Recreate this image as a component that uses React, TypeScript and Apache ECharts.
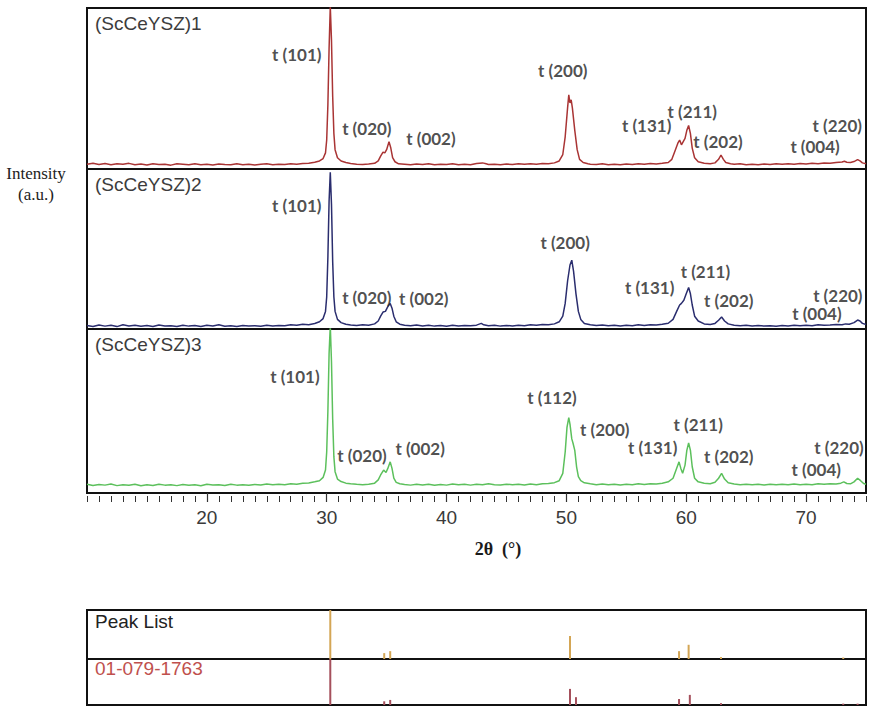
import React, { useEffect, useRef } from 'react';
import * as echarts from 'echarts';

// ---------- data ----------
const THETA_MIN = 10;
const THETA_MAX = 75;
const THETA_TICKS = [20, 30, 40, 50, 60, 70];
const SAMPLE_NAMES = ['(ScCeYSZ)1', '(ScCeYSZ)2', '(ScCeYSZ)3'];
const LIST_NAMES = ['Peak List', '01-079-1763'];
const AXIS_TITLE_X = '2θ  (°)';
const AXIS_TITLE_Y = ['Intensity', '(a.u.)'];

// [2θ, intensity (% of panel height)]
const PATTERN_1: [number, number][] = [
  [10.0, 3.0], [10.5, 3.6], [11.0, 2.8], [11.5, 3.4], [12.0, 2.6], [12.5, 3.2], [13.0, 2.9], [13.5, 3.5],
  [14.0, 2.7], [14.5, 3.1], [15.0, 2.5], [15.5, 3.3], [16.0, 2.8], [16.5, 3.0], [17.0, 2.4], [17.5, 3.2],
  [18.0, 2.9], [18.5, 2.6], [19.0, 3.3], [19.5, 2.7], [20.0, 3.0], [20.5, 2.5], [21.0, 3.1], [21.5, 2.8],
  [22.0, 2.6], [22.5, 3.2], [23.0, 2.7], [23.5, 3.0], [24.0, 2.5], [24.5, 2.9], [25.0, 3.2], [25.5, 2.6],
  [26.0, 3.0], [26.5, 2.8], [27.0, 3.3], [27.5, 3.0], [28.0, 3.4], [28.5, 3.6], [29.0, 4.2], [29.4, 5.0],
  [29.7, 6.5], [29.9, 10], [30.0, 18], [30.1, 40], [30.2, 75], [30.3, 101], [30.4, 80], [30.5, 45],
  [30.6, 22], [30.7, 12], [30.9, 7], [31.2, 5], [31.6, 4], [32.0, 3.4], [32.5, 3.0], [33.0, 2.8],
  [33.5, 3.1], [34.0, 3.5], [34.3, 5], [34.5, 8], [34.7, 10.5], [34.85, 10], [35.0, 12], [35.2, 17],
  [35.35, 13], [35.5, 7], [35.7, 4.5], [36.0, 3.2], [36.5, 3.0], [37.0, 2.7], [37.5, 3.1], [38.0, 2.8],
  [38.5, 3.2], [39.0, 2.6], [39.5, 3.0], [40.0, 2.8], [40.5, 3.3], [41.0, 2.7], [41.5, 3.0], [42.0, 2.6],
  [42.5, 3.4], [43.0, 3.8], [43.3, 3.2], [43.5, 2.8], [44.0, 3.0], [44.5, 2.6], [45.0, 3.1], [45.5, 2.8],
  [46.0, 3.2], [46.5, 2.9], [47.0, 3.3], [47.5, 3.0], [48.0, 3.4], [48.5, 3.2], [49.0, 3.8], [49.4, 5],
  [49.7, 9], [49.9, 20], [50.1, 38], [50.2, 46], [50.3, 41], [50.4, 43], [50.5, 38], [50.7, 24],
  [50.9, 12], [51.1, 6], [51.4, 4], [51.8, 3.3], [52.0, 3.0], [52.5, 2.8], [53.0, 3.2], [53.5, 2.7],
  [54.0, 3.0], [54.5, 2.6], [55.0, 3.1], [55.5, 2.8], [56.0, 3.3], [56.5, 3.0], [57.0, 3.4], [57.5, 3.1],
  [58.0, 3.5], [58.5, 4.0], [58.8, 6], [59.1, 12], [59.3, 16], [59.45, 18], [59.6, 15], [59.75, 17],
  [59.9, 19], [60.05, 24], [60.2, 27], [60.35, 22], [60.5, 13], [60.7, 7], [61.0, 4.5], [61.5, 3.6],
  [62.0, 3.3], [62.4, 3.8], [62.7, 6], [62.9, 8.7], [63.1, 6], [63.3, 4], [63.7, 3.2], [64.0, 2.9],
  [64.5, 3.2], [65.0, 2.7], [65.5, 3.0], [66.0, 2.6], [66.5, 3.1], [67.0, 2.8], [67.5, 3.2], [68.0, 2.9],
  [68.5, 3.3], [69.0, 3.0], [69.5, 3.4], [70.0, 3.1], [70.5, 3.5], [71.0, 3.3], [71.5, 3.7], [72.0, 3.5],
  [72.5, 4.0], [73.0, 4.3], [73.2, 4.8], [73.4, 4.2], [73.7, 4.0], [74.0, 4.6], [74.3, 5.8], [74.5, 5.0],
  [74.7, 3.8], [75.0, 3.2],
];

const PATTERN_2: [number, number][] = [
  [10.0, 2.2], [10.5, 1.6], [11.0, 2.5], [11.5, 1.8], [12.0, 2.3], [12.5, 1.5], [13.0, 2.6], [13.5, 1.9],
  [14.0, 2.4], [14.5, 1.7], [15.0, 2.2], [15.5, 1.6], [16.0, 2.5], [16.5, 1.9], [17.0, 2.1], [17.5, 1.5],
  [18.0, 2.4], [18.5, 1.8], [19.0, 2.2], [19.5, 1.6], [20.0, 2.3], [20.5, 1.9], [21.0, 2.6], [21.5, 1.7],
  [22.0, 2.0], [22.5, 1.6], [23.0, 2.2], [23.5, 1.8], [24.0, 2.1], [24.5, 1.7], [25.0, 2.4], [25.5, 1.9],
  [26.0, 2.2], [26.5, 2.0], [27.0, 2.6], [27.5, 2.3], [28.0, 3.0], [28.5, 2.7], [29.0, 3.4], [29.4, 4.5],
  [29.7, 6.5], [29.9, 11], [30.0, 20], [30.1, 45], [30.2, 80], [30.3, 98], [30.4, 78], [30.5, 42],
  [30.6, 20], [30.7, 11], [30.9, 6], [31.2, 4], [31.6, 3], [32.0, 2.5], [32.5, 2.2], [33.0, 2.6],
  [33.5, 2.4], [34.0, 3.2], [34.3, 5], [34.5, 8], [34.7, 10.6], [34.9, 11], [35.1, 14], [35.3, 16],
  [35.45, 13], [35.6, 8], [35.8, 4.5], [36.1, 3], [36.5, 2.4], [37.0, 2.0], [37.5, 2.5], [38.0, 1.9],
  [38.5, 2.3], [39.0, 1.8], [39.5, 2.2], [40.0, 1.7], [40.5, 2.3], [41.0, 1.9], [41.5, 2.2], [42.0, 2.0],
  [42.5, 2.4], [42.9, 3.5], [43.1, 2.6], [43.5, 2.0], [44.0, 2.3], [44.5, 1.8], [45.0, 2.2], [45.5, 1.9],
  [46.0, 2.4], [46.5, 2.1], [47.0, 2.6], [47.5, 2.3], [48.0, 2.8], [48.5, 2.6], [49.0, 3.2], [49.4, 4.5],
  [49.7, 8], [49.9, 16], [50.1, 30], [50.3, 40], [50.45, 43], [50.6, 36], [50.8, 22], [51.0, 11],
  [51.2, 6], [51.5, 3.5], [52.0, 2.6], [52.5, 2.2], [53.0, 2.5], [53.5, 2.0], [54.0, 2.3], [54.5, 1.9],
  [55.0, 2.4], [55.5, 2.1], [56.0, 2.6], [56.5, 2.2], [57.0, 2.7], [57.5, 2.5], [58.0, 3.0], [58.5, 3.6],
  [58.9, 6], [59.2, 11], [59.45, 15], [59.6, 16], [59.8, 18], [60.0, 22], [60.2, 26], [60.35, 22],
  [60.5, 15], [60.7, 8], [61.0, 5], [61.5, 3.2], [62.0, 2.8], [62.4, 3.5], [62.7, 5.5], [62.95, 7.5],
  [63.2, 5], [63.5, 3.2], [64.0, 2.4], [64.5, 2.0], [65.0, 2.3], [65.5, 1.9], [66.0, 2.2], [66.5, 1.8],
  [67.0, 2.1], [67.5, 1.7], [68.0, 2.2], [68.5, 1.9], [69.0, 2.3], [69.5, 2.0], [70.0, 2.4], [70.5, 2.1],
  [71.0, 2.6], [71.5, 2.3], [72.0, 2.5], [72.5, 2.8], [73.0, 2.6], [73.3, 3.2], [73.6, 3.0], [74.0, 4.0],
  [74.3, 5.6], [74.5, 5.0], [74.7, 3.5], [75.0, 2.8],
];

const PATTERN_3: [number, number][] = [
  [10.0, 5.4], [10.5, 4.6], [11.0, 5.2], [11.5, 4.8], [12.0, 5.5], [12.5, 4.5], [13.0, 5.1], [13.5, 4.7],
  [14.0, 5.3], [14.5, 4.4], [15.0, 5.0], [15.5, 4.6], [16.0, 5.4], [16.5, 4.8], [17.0, 5.1], [17.5, 4.5],
  [18.0, 5.2], [18.5, 4.7], [19.0, 5.0], [19.5, 4.4], [20.0, 5.3], [20.5, 4.9], [21.0, 5.1], [21.5, 4.6],
  [22.0, 5.4], [22.5, 4.8], [23.0, 5.0], [23.5, 4.7], [24.0, 5.2], [24.5, 4.9], [25.0, 5.5], [25.5, 5.0],
  [26.0, 5.3], [26.5, 5.1], [27.0, 5.6], [27.5, 5.4], [28.0, 5.9], [28.5, 6.1], [29.0, 6.8], [29.4, 7.5],
  [29.7, 9.5], [29.9, 14], [30.0, 25], [30.1, 50], [30.2, 85], [30.3, 102], [30.4, 80], [30.5, 45],
  [30.6, 22], [30.7, 13], [30.9, 8.5], [31.2, 7], [31.6, 6], [32.0, 5.6], [32.5, 5.3], [33.0, 5.1],
  [33.5, 5.4], [34.0, 6], [34.3, 8], [34.5, 11], [34.75, 14], [34.95, 12.5], [35.1, 15], [35.3, 19],
  [35.45, 15], [35.6, 9], [35.8, 6.5], [36.1, 5.6], [36.5, 5.2], [37.0, 4.8], [37.5, 5.3], [38.0, 4.9],
  [38.5, 5.4], [39.0, 4.7], [39.5, 5.2], [40.0, 4.8], [40.5, 5.5], [41.0, 5.0], [41.5, 5.3], [42.0, 4.8],
  [42.5, 5.4], [43.0, 5.0], [43.5, 5.6], [44.0, 5.1], [44.5, 4.9], [45.0, 5.4], [45.5, 5.0], [46.0, 5.3],
  [46.5, 4.9], [47.0, 5.5], [47.5, 5.1], [48.0, 5.6], [48.5, 5.8], [49.0, 6.3], [49.4, 7.5], [49.7, 12],
  [49.9, 25], [50.05, 40], [50.2, 46], [50.3, 42], [50.45, 33], [50.55, 30.5], [50.7, 26], [50.85, 16],
  [51.0, 10], [51.2, 7.5], [51.5, 6.2], [52.0, 5.6], [52.5, 5.1], [53.0, 5.5], [53.5, 5.0], [54.0, 5.4],
  [54.5, 4.9], [55.0, 5.3], [55.5, 5.0], [56.0, 5.6], [56.5, 5.2], [57.0, 5.7], [57.5, 5.5], [58.0, 6.0],
  [58.5, 6.8], [58.9, 9], [59.15, 14], [59.4, 19], [59.55, 15], [59.7, 12], [59.9, 17], [60.05, 26],
  [60.2, 30.5], [60.35, 26], [60.5, 16], [60.7, 9], [61.0, 6.8], [61.5, 6.0], [62.0, 5.7], [62.4, 6.5],
  [62.7, 9], [62.95, 12], [63.2, 8.5], [63.5, 6.2], [64.0, 5.5], [64.5, 5.1], [65.0, 5.4], [65.5, 5.0],
  [66.0, 5.3], [66.5, 4.9], [67.0, 5.4], [67.5, 5.0], [68.0, 5.3], [68.5, 5.0], [69.0, 5.5], [69.5, 5.1],
  [70.0, 5.4], [70.5, 5.1], [71.0, 5.6], [71.5, 5.3], [72.0, 5.7], [72.5, 5.5], [72.9, 6.0], [73.15, 6.8],
  [73.4, 5.8], [73.7, 5.6], [74.0, 6.8], [74.3, 9], [74.55, 7.5], [74.8, 5.8], [75.0, 5.3],
];

// peak annotations: [2θ, intensity, text]
const LABELS_1: [number, number, string][] = [
  [27.5, 71, 't (101)'], [33.35, 25, 't (020)'], [38.7, 19, 't (002)'], [49.7, 61, 't (200)'],
  [56.7, 27, 't (131)'], [60.5, 36, 't (211)'], [62.65, 17, 't (202)'], [72.6, 27, 't (220)'],
  [70.75, 14, 't (004)'],
];
const LABELS_2: [number, number, string][] = [
  [27.5, 77, 't (101)'], [33.35, 20, 't (020)'], [38.1, 19, 't (002)'], [49.9, 54, 't (200)'],
  [56.95, 26, 't (131)'], [61.6, 36, 't (211)'], [63.55, 18, 't (202)'], [72.65, 21, 't (220)'],
  [70.9, 10, 't (004)'],
];
const LABELS_3: [number, number, string][] = [
  [27.35, 71, 't (101)'], [32.95, 23, 't (020)'], [37.8, 27, 't (002)'], [48.8, 58, 't (112)'],
  [53.2, 39, 't (200)'], [57.2, 28, 't (131)'], [61.0, 41.5, 't (211)'], [63.55, 22, 't (202)'],
  [72.75, 28, 't (220)'], [70.85, 14.5, 't (004)'],
];

// reference stick patterns: [2θ, relative intensity]
const PEAK_LIST: [number, number][] = [
  [30.3, 100], [34.8, 12], [35.3, 16], [50.3, 47], [59.4, 16], [60.2, 29], [62.9, 4], [73.1, 3],
];
const CARD_01_079_1763: [number, number][] = [
  [30.3, 100], [34.8, 8], [35.3, 11], [50.3, 35], [50.8, 17], [59.4, 13], [60.3, 22], [62.9, 4],
  [73.1, 3], [74.3, 3],
];

// ---------- layout / style ----------
const LEFT = 87;
const RIGHT = 8;
const PANEL_TOPS = [8, 169, 329];
const PANEL_HEIGHTS = [161, 160, 164];
const LIST_TOPS = [610, 659];
const LIST_HEIGHTS = [49, 46];
const CURVE_COLORS = ['#a93434', '#2a2d6e', '#5cc05c'];
const LIST_COLORS = ['#d4a655', '#a5505c'];
const LIST_TEXT_COLORS = ['#222222', '#c0504d'];

export default function App() {
  const ref = useRef<HTMLDivElement>(null);

  useEffect(() => {
    const chart = echarts.init(ref.current!, null, { renderer: 'svg' });

    const allTops = [...PANEL_TOPS, ...LIST_TOPS];
    const allHeights = [...PANEL_HEIGHTS, ...LIST_HEIGHTS];

    const grids = allTops.map((top, i) => ({
      left: LEFT,
      right: RIGHT,
      top,
      height: allHeights[i],
      show: true,
      borderColor: '#111',
      borderWidth: 2,
      backgroundColor: 'transparent',
    }));

    const hiddenX = (gi: number) => ({
      gridIndex: gi,
      type: 'value',
      min: THETA_MIN,
      max: THETA_MAX,
      show: false,
    });

    const xAxes: any[] = [
      hiddenX(0),
      hiddenX(1),
      {
        gridIndex: 2,
        type: 'value',
        position: 'bottom',
        min: THETA_MIN,
        max: THETA_MAX,
        offset: 3,
        axisLine: { show: false },
        splitLine: { show: false },
        axisTick: {
          show: true,
          length: 9,
          customValues: THETA_TICKS,
          lineStyle: { color: '#333', width: 1.2 },
        },
        axisLabel: {
          show: true,
          customValues: THETA_TICKS,
          margin: 12,
          fontFamily: 'Liberation Sans, Arial, sans-serif',
          fontSize: 19,
          color: '#3a3a3a',
        },
      },
      hiddenX(3),
      hiddenX(4),
      {
        gridIndex: 2,
        type: 'value',
        position: 'bottom',
        min: THETA_MIN,
        max: THETA_MAX,
        interval: 1,
        offset: 3,
        axisLine: { show: false },
        splitLine: { show: false },
        axisLabel: { show: false },
        axisTick: { show: true, length: 6, lineStyle: { color: '#333', width: 1 } },
      },
    ];

    const yAxes = allTops.map((_, i) => ({
      gridIndex: i,
      type: 'value',
      min: 0,
      max: 100,
      show: false,
    }));

    const patterns = [PATTERN_1, PATTERN_2, PATTERN_3];
    const labels = [LABELS_1, LABELS_2, LABELS_3];

    const series: any[] = [];
    patterns.forEach((p, i) => {
      series.push({
        type: 'line',
        xAxisIndex: i,
        yAxisIndex: i,
        data: p,
        showSymbol: false,
        symbol: 'none',
        clip: true,
        lineStyle: { color: CURVE_COLORS[i], width: 1.5 },
        z: 3,
      });
      series.push({
        type: 'scatter',
        xAxisIndex: i,
        yAxisIndex: i,
        symbolSize: 1,
        itemStyle: { color: 'rgba(0,0,0,0)' },
        data: labels[i].map(([x, y, t]) => ({ name: t, value: [x, y] })),
        label: {
          show: true,
          position: 'inside',
          formatter: '{b}',
          fontFamily: 'Lato, sans-serif',
          fontWeight: 'bold',
          fontSize: 17,
          color: '#222222',
        },
        z: 4,
      });
    });

    [PEAK_LIST, CARD_01_079_1763].forEach((d, i) => {
      series.push({
        type: 'bar',
        xAxisIndex: 3 + i,
        yAxisIndex: 3 + i,
        barWidth: 2,
        data: d,
        itemStyle: { color: LIST_COLORS[i] },
      });
    });

    const graphic: any[] = [];
    SAMPLE_NAMES.forEach((name, i) => {
      graphic.push({
        type: 'text',
        x: LEFT + 8,
        y: PANEL_TOPS[i] + 15,
        style: {
          text: name,
          fontFamily: 'Liberation Sans, Arial, sans-serif',
          fontSize: 19,
          fill: '#3c3c3c',
          verticalAlign: 'middle',
          align: 'left',
        },
        z: 10,
      });
    });
    LIST_NAMES.forEach((name, i) => {
      graphic.push({
        type: 'text',
        x: LEFT + 8,
        y: LIST_TOPS[i] + (i === 0 ? 11 : 9),
        style: {
          text: name,
          fontFamily: 'Liberation Sans, Arial, sans-serif',
          fontSize: 19,
          fill: LIST_TEXT_COLORS[i],
          verticalAlign: 'middle',
          align: 'left',
        },
        z: 10,
      });
    });
    AXIS_TITLE_Y.forEach((t, i) => {
      graphic.push({
        type: 'text',
        x: 36,
        y: 173 + i * 21,
        style: {
          text: t,
          fontFamily: 'Liberation Serif, Times New Roman, serif',
          fontSize: 17,
          fill: '#222',
          align: 'center',
          verticalAlign: 'middle',
        },
      });
    });
    graphic.push({
      type: 'text',
      x: 498,
      y: 549,
      style: {
        text: AXIS_TITLE_X,
        fontFamily: 'Liberation Serif, Times New Roman, serif',
        fontWeight: 'bold',
        fontSize: 18,
        fill: '#1a1a1a',
        align: 'center',
        verticalAlign: 'middle',
      },
    });

    chart.setOption({
      animation: false,
      backgroundColor: '#ffffff',
      grid: grids,
      xAxis: xAxes,
      yAxis: yAxes,
      series,
      graphic,
    });

    return () => chart.dispose();
  }, []);

  return (
    <div
      ref={ref}
      style={{ position: 'fixed', left: 0, top: 0, width: 874, height: 712 }}
    />
  );
}
